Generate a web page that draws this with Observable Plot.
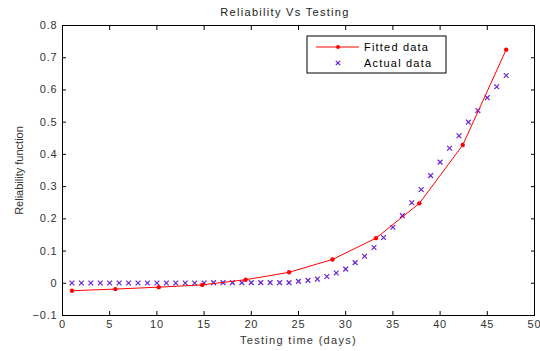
<!DOCTYPE html>
<html>
<head>
<meta charset="utf-8">
<script src="https://cdn.jsdelivr.net/npm/d3@7"></script>
<script src="https://cdn.jsdelivr.net/npm/@observablehq/plot@0.6"></script>
<style>
  html, body { margin: 0; padding: 0; background: #fff; }
  svg { font-family: "Liberation Sans", Arial, sans-serif; }
</style>
</head>
<body>
<div id="chart"></div>
<script>
const titleText = "Reliability Vs Testing";
const xLabel = "Testing time (days)";
const yLabel = "Reliability function";
const legendLabels = ["Fitted data", "Actual data"];

const fittedX = [1, 5.6, 10.2, 14.8, 19.4, 24, 28.6, 33.2, 37.8, 42.4, 47];
const fittedY = [-0.023, -0.018, -0.012, -0.005, 0.011, 0.034, 0.074, 0.140, 0.248, 0.429, 0.725];

const actualX = [1,2,3,4,5,6,7,8,9,10,11,12,13,14,15,16,17,18,19,20,21,22,23,24,25,26,27,28,29,30,31,32,33,34,35,36,37,38,39,40,41,42,43,44,45,46,47];
const actualY = [0.001,0.001,0.001,0.001,0.001,0.001,0.001,0.001,0.001,0.001,0.001,0.001,0.001,0.001,0.001,
  0.002,0.002,0.002,0.002,0.002,0.002,0.002,0.002,0.002,
  0.006,0.009,0.013,0.021,0.032,0.044,0.064,0.084,0.111,0.142,0.174,0.210,0.250,0.291,0.334,0.376,0.419,0.458,0.500,0.536,0.576,0.610,0.645];

const xTicks = [0,5,10,15,20,25,30,35,40,45,50];
const yTicks = [-0.1,0,0.1,0.2,0.3,0.4,0.5,0.6,0.7,0.8];

const fitted = fittedX.map((x, i) => ({x, y: fittedY[i]}));
const actual = actualX.map((x, i) => ({x, y: actualY[i]}));

const RED = "#ff0000";
const PURPLE = "#6a22d0";

function legend(index, scales, values, dimensions) {
  const g = d3.create("svg:g");
  const x0 = 307, y0 = 36, w = 139, h = 37;
  g.append("rect").attr("x", x0).attr("y", y0).attr("width", w).attr("height", h)
    .attr("fill", "#fff").attr("stroke", "#000").attr("stroke-width", 1);
  g.append("line").attr("x1", x0 + 9).attr("x2", x0 + 52).attr("y1", y0 + 11).attr("y2", y0 + 11)
    .attr("stroke", RED).attr("stroke-width", 1);
  g.append("circle").attr("cx", x0 + 31).attr("cy", y0 + 11).attr("r", 2).attr("fill", RED);
  const mx = x0 + 31, my = y0 + 27, s = 2.2;
  g.append("path").attr("d", `M${mx-s},${my-s}L${mx+s},${my+s}M${mx-s},${my+s}L${mx+s},${my-s}`)
    .attr("stroke", PURPLE).attr("stroke-width", 1.2).attr("fill", "none");
  legendLabels.forEach((t, i) => {
    g.append("text").attr("x", x0 + 57).attr("y", y0 + 11 + i * 16).attr("dy", "0.35em")
      .attr("text-anchor", "start").attr("font-size", 11).attr("letter-spacing", "1.2px")
      .attr("fill", "#000").text(t);
  });
  return g.node();
}

function title(index, scales, values, dimensions) {
  const g = d3.create("svg:g");
  g.append("text").attr("x", 285).attr("y", 12).attr("dy", "0.35em")
    .attr("text-anchor", "middle").attr("font-size", 11).attr("letter-spacing", "1.3px")
    .attr("fill", "#222").text(titleText);
  return g.node();
}

const chart = Plot.plot({
  width: 540,
  height: 351,
  marginLeft: 62,
  marginRight: 6,
  marginTop: 25,
  marginBottom: 36,
  style: {fontFamily: "Liberation Sans, Arial, sans-serif", fontSize: "11px", background: "#fff", overflow: "visible"},
  x: {domain: [0, 50]},
  y: {domain: [-0.1, 0.8]},
  marks: [
    Plot.frame({stroke: "#000", strokeWidth: 1}),
    Plot.axisX(xTicks, {anchor: "bottom", tickSize: -4, tickPadding: 9, label: xLabel, labelAnchor: "center", labelArrow: "none", labelOffset: 28, fill: "#333"}),
    Plot.axisX(xTicks, {anchor: "top", tickSize: -4, tickFormat: () => "", label: null}),
    Plot.axisY(yTicks, {anchor: "left", tickSize: -4, tickPadding: 9, tickFormat: d => d === 0 ? "0" : d3.format(".1f")(d), label: yLabel, labelAnchor: "center", labelArrow: "none", labelOffset: 47, fill: "#333"}),
    Plot.axisY(yTicks, {anchor: "right", tickSize: -4, tickFormat: () => "", label: null}),
    Plot.dot(actual, {x: "x", y: "y", symbol: "times", r: 2.3, stroke: PURPLE, strokeWidth: 1.2}),
    Plot.line(fitted, {x: "x", y: "y", stroke: RED, strokeWidth: 1}),
    Plot.dot(fitted, {x: "x", y: "y", r: 2.2, fill: RED, stroke: null}),
    title,
    legend
  ]
});
d3.select(chart).selectAll('g[aria-label="x-axis tick label"], g[aria-label="y-axis tick label"]').attr("letter-spacing", "0.8px");
d3.select(chart).selectAll('g[aria-label="x-axis label"]').attr("letter-spacing", "1.3px");
document.getElementById("chart").appendChild(chart);
</script>
</body>
</html>
